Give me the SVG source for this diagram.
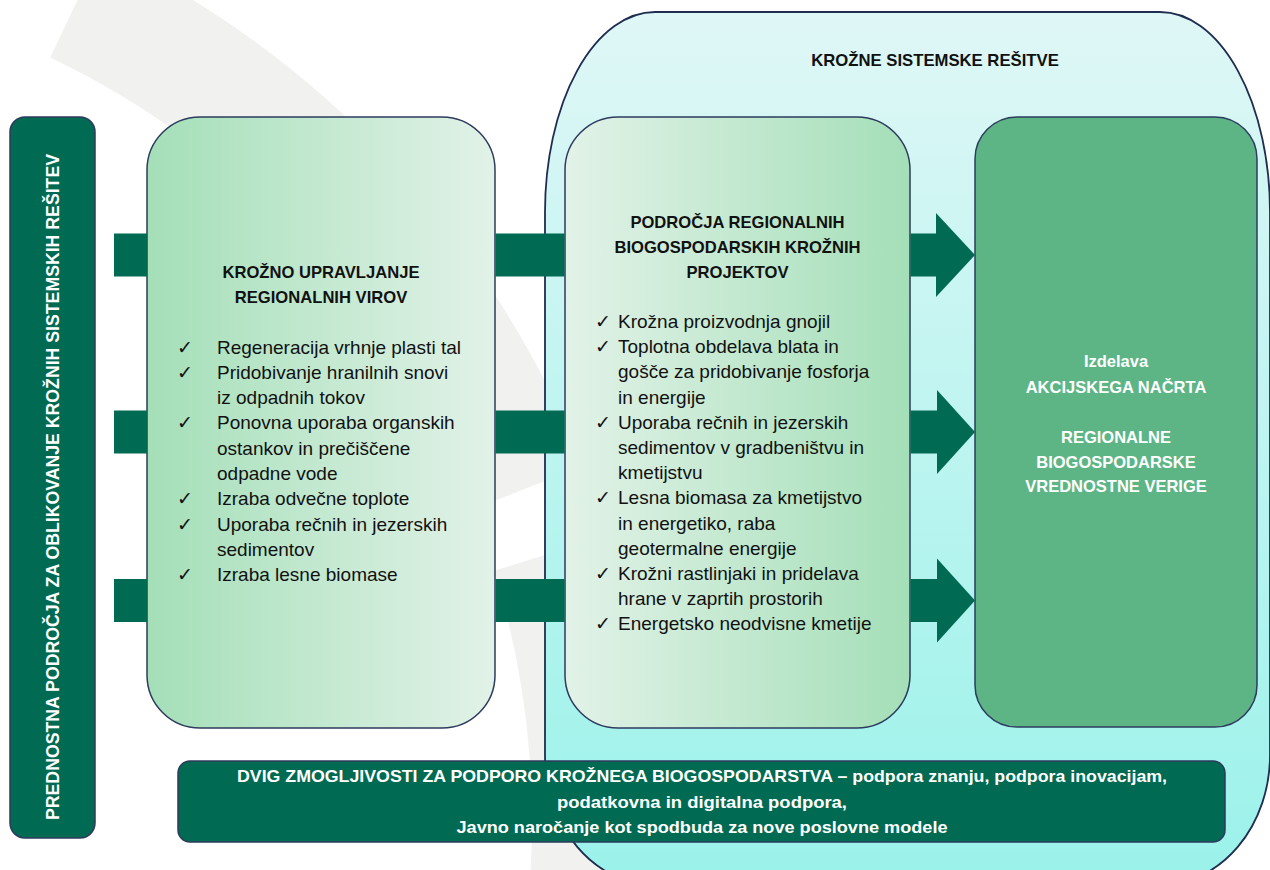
<svg xmlns="http://www.w3.org/2000/svg" width="1270" height="870" viewBox="0 0 1270 870">
<defs>
  <linearGradient id="g1" x1="0" y1="0" x2="1" y2="0"><stop offset="0" stop-color="#a4dfb8"/><stop offset="1" stop-color="#e2f2e8"/></linearGradient>
  <linearGradient id="g2" x1="0" y1="0" x2="1" y2="0"><stop offset="0" stop-color="#e2f2e8"/><stop offset="1" stop-color="#a4dfb8"/></linearGradient>
  <linearGradient id="gc" x1="0" y1="0" x2="0" y2="1"><stop offset="0" stop-color="#dff7f6"/><stop offset="1" stop-color="#9af2ea"/></linearGradient>
</defs>
<style>
  text{font-family:"Liberation Sans",Arial,sans-serif}
  .dark{fill:#006a52}
  .ol{stroke:#2d3b5e;stroke-width:1.5}
  .tt{font-size:16.6px;font-weight:bold;fill:#111;text-anchor:middle}
  .li{font-size:19px;fill:#111}
  .ck text{font-family:"DejaVu Sans",sans-serif;font-size:19px;fill:#111}
  .w{fill:#fff;font-weight:bold;text-anchor:middle}
  .wm{fill:#f1f2ef}
</style>
<rect width="1270" height="870" fill="#fff"/>
<g id="watermark">
  <path class="wm" d="M50.2 57.4 L101.4 -50 A965 965 0 0 1 583.3 465.8 L472.6 509.6 A846 846 0 0 0 50.2 57.4 Z"/>
  <path class="wm" d="M494.2 570.8 L607.9 535.6 A965 965 0 0 1 641.6 955.3 L523.8 938.8 A846 846 0 0 0 494.2 570.8 Z"/>
</g>
<g id="container">
  <path d="M655 12 H1160 A110 200 0 0 1 1270 212 V755 A110 130 0 0 1 1160 885 H655 A110 130 0 0 1 545 755 V212 A110 200 0 0 1 655 12 Z" fill="url(#gc)" stroke="#1f2d50" stroke-width="1.8"/>
  <text x="935" y="66" style="font-size:16.7px;font-weight:bold;fill:#111;text-anchor:middle">KROŽNE SISTEMSKE REŠITVE</text>
</g>
<g id="left-bar">
  <rect x="10" y="117" width="85" height="721" rx="15" class="dark ol"/>
  <text class="w" transform="translate(59,487) rotate(-90)" style="font-size:17.6px" textLength="666" lengthAdjust="spacingAndGlyphs">PREDNOSTNA PODROČJA ZA OBLIKOVANJE KROŽNIH SISTEMSKIH REŠITEV</text>
</g>
<g id="box-viri">
  <rect x="147" y="117" width="348" height="611" rx="53" fill="url(#g1)" class="ol"/>
  <text class="tt" x="321" y="277.5">KROŽNO UPRAVLJANJE</text>
  <text class="tt" x="321" y="302.5">REGIONALNIH VIROV</text>
  <g class="ck">
    <text x="177" y="353.5">✓</text>
    <text x="177" y="378.8">✓</text>
    <text x="177" y="429.4">✓</text>
    <text x="177" y="505.3">✓</text>
    <text x="177" y="530.6">✓</text>
    <text x="177" y="581.2">✓</text>
  </g>
  <text x="217" y="353.5" class="li">Regeneracija vrhnje plasti tal</text>
  <text x="217" y="378.8" class="li">Pridobivanje hranilnih snovi</text>
  <text x="217" y="404.1" class="li">iz odpadnih tokov</text>
  <text x="217" y="429.4" class="li">Ponovna uporaba organskih</text>
  <text x="217" y="454.7" class="li">ostankov in prečiščene</text>
  <text x="217" y="480" class="li">odpadne vode</text>
  <text x="217" y="505.3" class="li">Izraba odvečne toplote</text>
  <text x="217" y="530.6" class="li">Uporaba rečnih in jezerskih</text>
  <text x="217" y="555.9" class="li">sedimentov</text>
  <text x="217" y="581.2" class="li">Izraba lesne biomase</text>
</g>
<g id="box-projekti">
  <rect x="565" y="117" width="345" height="611" rx="53" fill="url(#g2)" class="ol"/>
  <text class="tt" x="737.5" y="228">PODROČJA REGIONALNIH</text>
  <text class="tt" x="737.5" y="253">BIOGOSPODARSKIH KROŽNIH</text>
  <text class="tt" x="737.5" y="278">PROJEKTOV</text>
  <g class="ck">
    <text x="595" y="328">✓</text>
    <text x="595" y="353.2">✓</text>
    <text x="595" y="428.8">✓</text>
    <text x="595" y="504.4">✓</text>
    <text x="595" y="580">✓</text>
    <text x="595" y="630.4">✓</text>
  </g>
  <text x="618" y="328" class="li">Krožna proizvodnja gnojil</text>
  <text x="618" y="353.2" class="li">Toplotna obdelava blata in</text>
  <text x="618" y="378.4" class="li">gošče za pridobivanje fosforja</text>
  <text x="618" y="403.6" class="li">in energije</text>
  <text x="618" y="428.8" class="li">Uporaba rečnih in jezerskih</text>
  <text x="618" y="454" class="li">sedimentov v gradbeništvu in</text>
  <text x="618" y="479.2" class="li">kmetijstvu</text>
  <text x="618" y="504.4" class="li">Lesna biomasa za kmetijstvo</text>
  <text x="618" y="529.6" class="li">in energetiko, raba</text>
  <text x="618" y="554.8" class="li">geotermalne energije</text>
  <text x="618" y="580" class="li">Krožni rastlinjaki in pridelava</text>
  <text x="618" y="605.2" class="li">hrane v zaprtih prostorih</text>
  <text x="618" y="630.4" class="li">Energetsko neodvisne kmetije</text>
</g>
<g id="box-nacrt">
  <rect x="975" y="117" width="282" height="610" rx="42" fill="#5db585" class="ol"/>
  <g class="w" style="font-size:16.5px">
    <text x="1116" y="367">Izdelava</text>
    <text x="1116" y="392.5">AKCIJSKEGA NAČRTA</text>
    <text x="1116" y="442.5">REGIONALNE</text>
    <text x="1116" y="467.5">BIOGOSPODARSKE</text>
    <text x="1116" y="492">VREDNOSTNE VERIGE</text>
  </g>
</g>
<g id="connectors" class="dark">
  <rect x="114" y="233.5" width="33" height="43"/>
  <rect x="114" y="410.5" width="33" height="43"/>
  <rect x="114" y="579" width="33" height="43"/>
  <rect x="495.5" y="233.5" width="69" height="43"/>
  <rect x="495.5" y="410.5" width="69" height="43"/>
  <rect x="495.5" y="579" width="69" height="43"/>
  <polygon points="910.5,233.5 936,233.5 936,213 975,255 936,297 936,276.5 910.5,276.5"/>
  <polygon points="910.5,410.5 937,410.5 937,390 975,432 937,474 937,453.5 910.5,453.5"/>
  <polygon points="910.5,579 937,579 937,558.5 975,600.5 937,642.5 937,622 910.5,622"/>
</g>
<g id="bottom-bar">
  <rect x="178" y="761" width="1047" height="81" rx="12" class="dark ol"/>
  <g class="w" style="font-size:17px">
    <text x="702" y="782" textLength="930" lengthAdjust="spacingAndGlyphs">DVIG ZMOGLJIVOSTI ZA PODPORO KROŽNEGA BIOGOSPODARSTVA – podpora  znanju,  podpora  inovacijam,</text>
    <text x="702" y="808" textLength="290" lengthAdjust="spacingAndGlyphs">podatkovna in digitalna podpora,</text>
    <text x="702" y="833" textLength="491" lengthAdjust="spacingAndGlyphs">Javno naročanje kot spodbuda za nove poslovne modele</text>
  </g>
</g>
</svg>
